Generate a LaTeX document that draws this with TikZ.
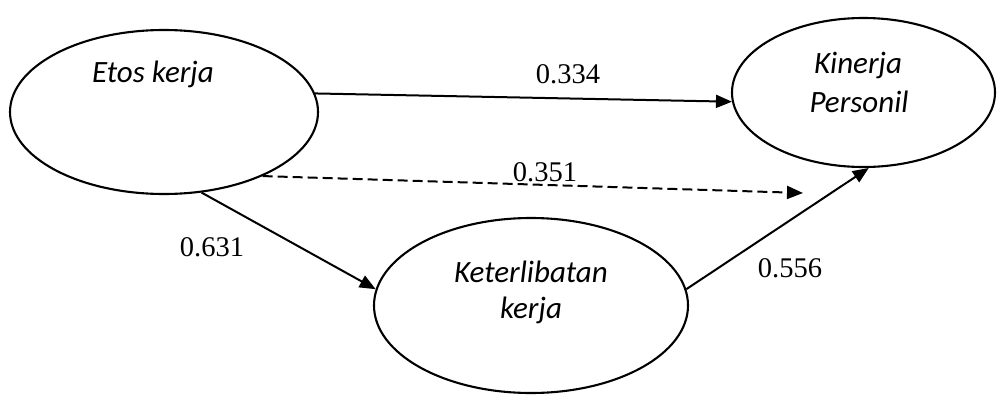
\documentclass[tikz,border=0pt]{standalone}
\usepackage{fontspec}
\setmainfont{Liberation Serif}
\newfontfamily\labelfont{Carlito}
\usetikzlibrary{arrows.meta,shapes.geometric}

\tikzset{
  construct/.style={draw, ellipse, line width=2.1pt, inner sep=0pt},
  ctext/.style={font=\labelfont\itshape\fontsize{31}{38}\selectfont, anchor=base, inner sep=0pt},
  coef/.style={font=\fontsize{28.5}{34}\selectfont, anchor=base, inner sep=0pt},
  path/.style={line width=2pt, -{Triangle[length=16pt,width=13pt]}},
  indirect/.style={path, dash pattern=on 10pt off 5pt}
}

\begin{document}
\begin{tikzpicture}[x=1pt,y=-1pt]
  \useasboundingbox[fill=white] (0,0) rectangle (998,394);

  % latent constructs
  \node[construct, minimum width=308pt, minimum height=164pt] (etos) at (164,112) {};
  \node[construct, minimum width=263pt, minimum height=149pt] (kin) at (863.5,92.5) {};
  \node[construct, minimum width=314pt, minimum height=175pt] (ket) at (531,305.5) {};

  % construct names
  \node[ctext] (etosname) at (153,82) {Etos kerja};
  \node[ctext] (kinname1) at (858,73) {Kinerja};
  \node[ctext] (kinname2) at (859,112) {Personil};
  \node[ctext] (ketname1) at (531,282) {Keterlibatan};
  \node[ctext] (ketname2) at (531,318) {kerja};

  % structural paths
  \coordinate (indirectend) at (803,193);
  \draw[path] (etos.7) -- (kin.184.5);
  \draw[indirect] (etos.-33.3) -- (indirectend);
  \draw[path] (etos.-65) -- (ket.174.4);
  \draw[path] (ket.6.5) -- (kin.-86.6);

  % path coefficients
  \node[coef] (c1) at (568,83) {0.334};
  \node[coef] (c2) at (545,181) {0.351};
  \node[coef] (c3) at (212,256) {0.631};
  \node[coef] (c4) at (790,277) {0.556};
\end{tikzpicture}
\end{document}
